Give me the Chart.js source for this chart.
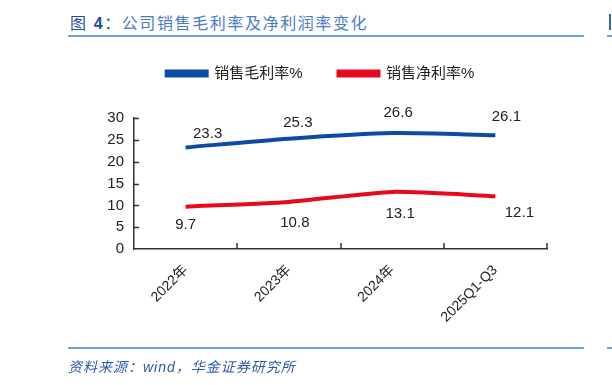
<!DOCTYPE html>
<html>
<head>
<meta charset="utf-8">
<script src="https://cdn.jsdelivr.net/npm/chart.js@4/dist/chart.umd.min.js"></script>
<style>
  html, body { margin: 0; padding: 0; background: #fff; }
  body { width: 612px; height: 385px; position: relative; overflow: hidden;
         font-family: "Liberation Sans", Arial, "Noto Sans CJK SC", sans-serif; }
  #wrap { position: absolute; left: 0; top: 0; width: 612px; height: 385px; }
  .title { position: absolute; left: 70px; top: 10px; font-size: 16px; letter-spacing: 1.6px;
           color: #4a7cc4; white-space: nowrap; }
  .title b { color: #1f4e9c; font-weight: normal; }
  .title b i { font-style: normal; font-weight: bold; }
  .rule { position: absolute; height: 2px; background: #6aa3d8; }
  .source { position: absolute; left: 68px; top: 356px; font-size: 14px; font-style: italic;
            letter-spacing: 1px; color: #2c5aa8; white-space: nowrap; }
  .next { position: absolute; left: 609px; top: 14px; width: 2px; height: 16px; background: #3d66ad; }
</style>
</head>
<body>
<div class="title"><b>图 <i>4</i>：</b>公司销售毛利率及净利润率变化</div>
<div class="rule" style="left:68px; top:35px; width:516px;"></div>
<div class="rule" style="left:607px; top:35px; width:5px;"></div>
<div class="next"></div>
<div id="wrap"><canvas id="chart" width="612" height="385"></canvas></div>
<div class="rule" style="left:68px; top:347px; width:516px;"></div>
<div class="rule" style="left:607px; top:347px; width:5px;"></div>
<div class="source">资料来源：wind，华金证券研究所</div>

<script>
const categories = ['2022年', '2023年', '2024年', '2025Q1-Q3'];
const grossMargin = [23.3, 25.3, 26.6, 26.1];
const netMargin = [9.7, 10.8, 13.1, 12.1];
const yTicks = [0, 5, 10, 15, 20, 25, 30];

const FONT = '"Liberation Sans", Arial, "Noto Sans CJK SC", sans-serif';

// value labels, nudged a bit like the original
const valueLabels = {
    id: 'valueLabels',
    afterDatasetsDraw(chart) {
        const ctx = chart.ctx;
        ctx.save();
        ctx.font = '15px ' + FONT;
        ctx.fillStyle = '#222';
        ctx.textAlign = 'center';
        ctx.textBaseline = 'middle';
        chart.data.datasets.forEach((ds, di) => {
            const meta = chart.getDatasetMeta(di);
            meta.data.forEach((pt, i) => {
                const dx = ds.labelDx[i];
                const dy = ds.labelDy[i];
                ctx.fillText(ds.data[i].toFixed(1), pt.x + dx, pt.y + dy);
            });
        });
        ctx.restore();
    }
};

// small tick marks pointing inside the plot
const innerTicks = {
    id: 'innerTicks',
    afterDraw(chart) {
        const ctx = chart.ctx;
        const x = chart.scales.x, y = chart.scales.y;
        ctx.save();
        ctx.strokeStyle = '#333';
        ctx.lineWidth = 1.5;
        ctx.beginPath();
        y.ticks.forEach(t => {
            if (t.value === 0) return;
            const py = Math.round(y.getPixelForValue(t.value)) + 0.5;
            ctx.moveTo(x.left, py);
            ctx.lineTo(x.left + 5, py);
        });
        const n = categories.length;
        for (let i = 1; i <= n; i++) {
            const px = Math.round(x.left + i * (x.right - x.left) / n);
            ctx.moveTo(px, y.bottom);
            ctx.lineTo(px, y.bottom - 6);
        }
        ctx.stroke();
        ctx.restore();
    }
};

new Chart(document.getElementById('chart'), {
    type: 'line',
    data: {
        labels: categories,
        datasets: [
            {
                label: '销售毛利率%',
                data: grossMargin,
                borderColor: '#0b4ba3',
                backgroundColor: '#0b4ba3',
                borderWidth: 4,
                pointRadius: 0,
                tension: 0.25,
                labelDx: [22, 9, 6, 11],
                labelDy: [-14, -16, -20, -18]
            },
            {
                label: '销售净利率%',
                data: netMargin,
                borderColor: '#e60a1e',
                backgroundColor: '#e60a1e',
                borderWidth: 4,
                pointRadius: 0,
                tension: 0.2,
                labelDx: [0, 6, 8, 24],
                labelDy: [18, 21, 22, 17]
            }
        ]
    },
    options: {
        responsive: false,
        animation: false,
        maintainAspectRatio: false,
        layout: { padding: { left: 94, right: 65, top: 30, bottom: 46 } },
        plugins: {
            legend: {
                position: 'top',
                weight: 2000,
                labels: {
                    boxWidth: 40,
                    boxHeight: 4,
                    padding: 36,
                    color: '#222',
                    font: { size: 15, family: FONT }
                }
            },
            // empty spacer between the legend and the plot
            subtitle: {
                display: true,
                text: '',
                weight: 100,
                font: { size: 1 },
                padding: { top: 0, bottom: 26 }
            },
            tooltip: { enabled: false }
        },
        scales: {
            x: {
                offset: true,
                grid: { display: false, drawTicks: false },
                border: { color: '#333', width: 1.5 },
                ticks: {
                    color: '#222',
                    font: { size: 14, family: FONT },
                    minRotation: 45,
                    maxRotation: 45,
                    padding: 13
                },
                afterFit(scale) { scale.height = 90; }
            },
            y: {
                min: 0,
                max: 30,
                afterBuildTicks(scale) { scale.ticks = yTicks.map(v => ({ value: v })); },
                grid: { display: false, drawTicks: false },
                border: { color: '#333', width: 1.5 },
                ticks: {
                    color: '#222',
                    font: { size: 15, family: FONT },
                    padding: 10
                },
                afterFit(scale) { scale.width = 40; }
            }
        }
    },
    plugins: [valueLabels, innerTicks]
});
</script>
</body>
</html>
